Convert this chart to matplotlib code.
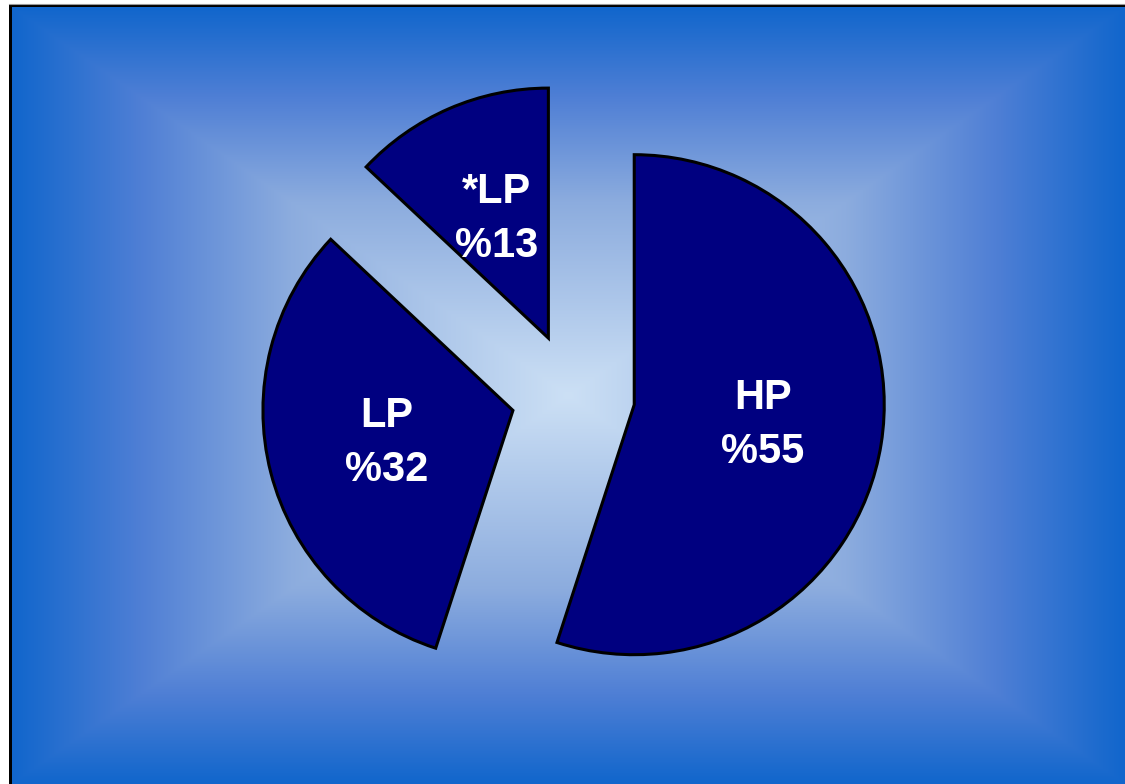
import numpy as np
import matplotlib.pyplot as plt

# data
names = ["HP", "LP", "*LP"]
shares = [55, 32, 13]
labels = [f"{n}\n%{v}" for n, v in zip(names, shares)]

W, H = 1125, 784
fig = plt.figure(figsize=(W / 100, H / 100), dpi=100)
ax = fig.add_axes([0, 0, 1, 1])

# rectangular "from centre" gradient background
x0, x1, y0, y1 = 12, W, 0, H - 7
xs = np.linspace(-1, 1, 600)
ys = np.linspace(-1, 1, 420)
gx, gy = np.meshgrid(xs, ys)
t = np.maximum(np.abs(gx), np.abs(gy))
stops = [0.0, 0.5, 0.77, 1.0]
cols = np.array([(204, 224, 245), (140, 172, 222), (79, 127, 213), (17, 102, 204)]) / 255
img = np.dstack([np.interp(t, stops, cols[:, i]) for i in range(3)])
ax.imshow(img, extent=[x0, x1, y0, y1], origin="lower", aspect="auto", zorder=0)

# black frame on left and top
ax.fill_between([9, 12], 0, H - 4, color="black", lw=0, zorder=1)
ax.fill_between([9, W], H - 7, H - 4, color="black", lw=0, zorder=1)
ax.plot([9, W], [H - 4, H - 4], color="#999999", lw=0.8, zorder=1)

wedges, texts = ax.pie(
    shares, labels=labels, startangle=90, counterclock=False,
    center=(573, H - 395), radius=250, explode=[62, 62, 62],
    colors=["#000080"] * 3, labeldistance=0.52,
    wedgeprops=dict(edgecolor="black", linewidth=2.2),
    textprops=dict(color="white", fontsize=30, fontweight="bold",
                   family="Liberation Sans"),
)
for tx in texts:
    tx.set_ha("center")
    tx.set_va("center")
    tx.set_linespacing(1.45)

ax.set_xlim(0, W)
ax.set_ylim(0, H)
ax.set_aspect("auto")
ax.axis("off")

fig.savefig("out.png", dpi=100, facecolor="white")
